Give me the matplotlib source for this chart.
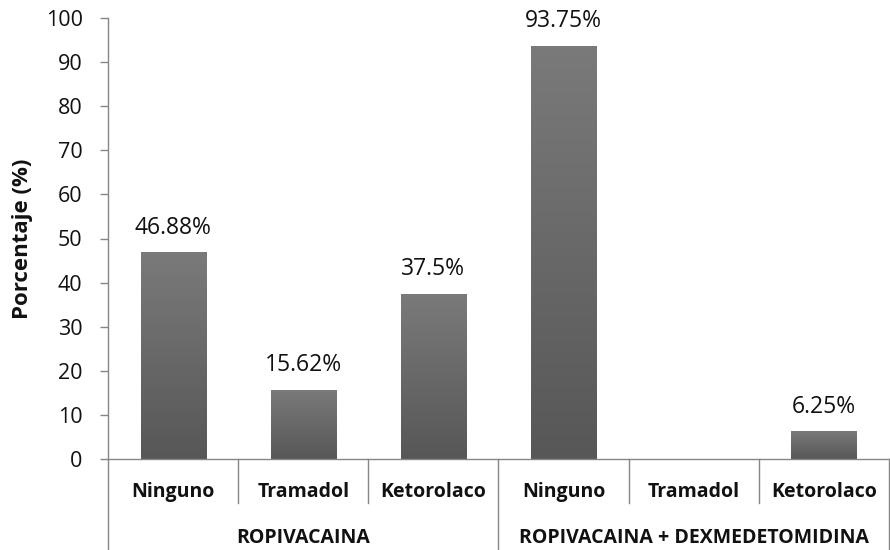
import matplotlib
matplotlib.use("Agg")
import matplotlib.pyplot as plt
import matplotlib.transforms as mtransforms
import numpy as np

plt.rcParams['font.family'] = ['Open Sans', 'DejaVu Sans']

groups = ["ROPIVACAINA", "ROPIVACAINA + DEXMEDETOMIDINA"]
treatments = ["Ninguno", "Tramadol", "Ketorolaco"]
values = [46.88, 15.62, 37.5, 93.75, 0.0, 6.25]
y_ticks = [0, 10, 20, 30, 40, 50, 60, 70, 80, 90, 100]

fig = plt.figure(figsize=(8.9, 5.5), dpi=100)
ax = fig.add_axes([108 / 890, 91 / 550, 781 / 890, 441 / 550])

axis_gray = "#868686"
text_col = "#111111"
x = np.arange(len(values))
bars = ax.bar(x, values, width=0.5, color="none", edgecolor="none", zorder=2)

# vertical gray gradient inside each bar
grad = np.linspace(0, 1, 256).reshape(-1, 1)
cmap = matplotlib.colors.LinearSegmentedColormap.from_list("g", ["#575757", "#7a7a7a"])
for b in bars:
    if b.get_height() <= 0:
        continue
    x0, w, h = b.get_x(), b.get_width(), b.get_height()
    im = ax.imshow(grad, extent=(x0, x0 + w, 0, h), origin="lower",
                   cmap=cmap, aspect="auto", zorder=2)
    im.set_clip_path(b)

for xi, v in zip(x, values):
    if v > 0:
        ax.annotate(f"{v:g}%", (xi, v), xytext=(0, 13.5), textcoords="offset points",
                    ha="center", va="baseline", fontsize=16.5, color=text_col)

ax.set_xlim(-0.5, len(values) - 0.5)
ax.set_ylim(0, 100)
ax.set_yticks(y_ticks)
ax.tick_params(axis="y", direction="out", length=5.8, width=1, color=axis_gray,
               labelsize=15.5, pad=12.5, labelcolor=text_col)
ax.set_xticks([])
for s in ["top", "right"]:
    ax.spines[s].set_visible(False)
for s in ["left", "bottom"]:
    ax.spines[s].set_color(axis_gray)
    ax.spines[s].set_linewidth(1)

ax.set_ylabel("Porcentaje (%)", fontsize=16, fontweight="bold", color=text_col)
ax.yaxis.set_label_coords(-75 / 781, 0.5)

# two-level category axis
trans = mtransforms.blended_transform_factory(ax.transData, ax.transAxes)
short_end = -44 / 441
long_end = -91 / 441
for i in range(len(values) + 1):
    xb = i - 0.5
    end = long_end if i % 3 == 0 else short_end
    ax.plot([xb, xb], [0, end], transform=trans, color=axis_gray, lw=1, clip_on=False)

for i, xi in enumerate(x):
    ax.text(xi, -38 / 441, treatments[i % 3], transform=trans, ha="center", va="baseline",
            fontsize=14, fontweight="bold", color=text_col)
for g, name in enumerate(groups):
    ax.text(g * 3 + 1, -84 / 441, name, transform=trans, ha="center", va="baseline",
            fontsize=14, fontweight="bold", color=text_col)

fig.savefig("out.png", dpi=100)
